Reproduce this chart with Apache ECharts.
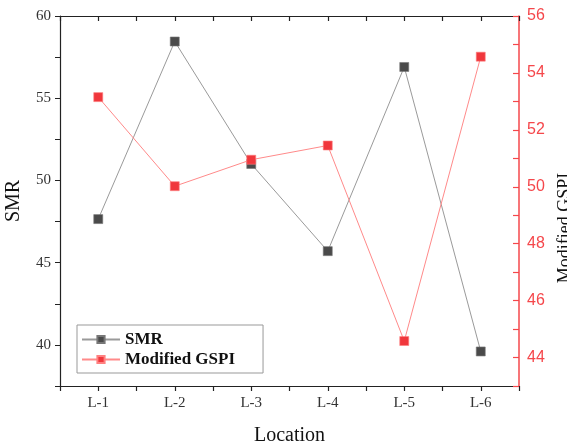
<!DOCTYPE html>
<html>
<head>
<meta charset="utf-8">
<script src="https://cdn.jsdelivr.net/npm/echarts@6/dist/echarts.min.js"></script>
<style>
  html, body { margin: 0; padding: 0; background: #fff; }
  #chart { width: 567px; height: 448px; }
</style>
</head>
<body>
<div id="chart"></div>
<script>
// --- data ---
const locations = ['L-1', 'L-2', 'L-3', 'L-4', 'L-5', 'L-6'];
const smrValues = [47.65, 58.45, 51.0, 45.7, 56.9, 39.6];
const gspiValues = [53.15, 50.02, 50.95, 51.45, 44.58, 54.57];

// colours
const COLORS = {
  axis: '#222',
  text: '#333',
  smrLine: '#9a9a9a',
  smrMark: '#4a4a4a',
  gspiLine: '#ff8a8a',
  gspiMark: '#f0373c',
  red: '#f5474b'
};

const serif = 'Liberation Serif';

// x 位置: 1..6 对应 L-1..L-6
const toPoints = (vals) => vals.map((v, i) => [i + 1, v]);
const locLabel = (v) => (Number.isInteger(v) && locations[v - 1]) ? locations[v - 1] : '';

const chart = echarts.init(document.getElementById('chart'));

const xBase = {
  type: 'value',
  min: 0.5,
  max: 6.5,
  interval: 0.5,
  splitLine: { show: false }
};

const option = {
  animation: false,
  backgroundColor: '#fff',
  grid: { left: 60, right: 48, top: 16, bottom: 62, containLabel: false, outerBoundsMode: 'none' },
  legend: {
    left: 77,
    top: 325,
    orient: 'vertical',
    itemWidth: 38,
    itemHeight: 9,
    itemGap: 3,
    padding: [6, 28, 5, 4],
    borderColor: '#999',
    borderWidth: 1,
    textStyle: { fontFamily: serif, fontWeight: 'bold', fontSize: 17, color: '#111' },
    data: ['SMR', 'Modified GSPI']
  },
  xAxis: [
    {
      ...xBase,
      position: 'bottom',
      name: 'Location',
      nameLocation: 'middle',
      nameGap: 40,
      nameTextStyle: { fontFamily: serif, fontSize: 20, color: '#111' },
      axisLine: { show: true, onZero: false, lineStyle: { color: COLORS.axis, width: 1.2 } },
      axisTick: { show: true, length: 5, lineStyle: { color: COLORS.axis, width: 1.2 } },
      axisLabel: { fontFamily: serif, fontSize: 15, color: COLORS.text, margin: 10, formatter: locLabel }
    },
    {
      ...xBase,
      position: 'top',
      axisLine: { show: true, onZero: false, lineStyle: { color: COLORS.axis, width: 1.2 } },
      axisTick: { show: true, inside: true, length: 5, lineStyle: { color: COLORS.axis, width: 1.2 } },
      axisLabel: { show: false }
    }
  ],
  yAxis: [
    {
      type: 'value',
      position: 'left',
      min: 37.5,
      max: 60,
      interval: 2.5,
      name: 'SMR',
      nameLocation: 'middle',
      nameGap: 36,
      nameTextStyle: { fontFamily: serif, fontSize: 20, color: '#111' },
      axisLine: { show: true, onZero: false, lineStyle: { color: COLORS.axis, width: 1.2 } },
      axisTick: { show: true, length: 5, lineStyle: { color: COLORS.axis, width: 1 } },
      axisLabel: {
        fontFamily: serif, fontSize: 15, color: COLORS.text, margin: 9,
        formatter: (v) => (v % 5 === 0 ? String(v) : '')
      },
      splitLine: { show: false }
    },
    {
      type: 'value',
      position: 'right',
      min: 43,
      max: 56,
      interval: 1,
      name: 'Modified GSPI',
      nameLocation: 'middle',
      nameGap: 37,
      nameRotate: 90,
      // 标题整体偏下
      nameTextStyle: { fontFamily: serif, fontSize: 18, color: '#111', padding: [0, 54, 0, 0] },
      axisLine: { show: true, onZero: false, lineStyle: { color: COLORS.red, width: 1.5 } },
      axisTick: { show: true, inside: true, length: 6, lineStyle: { color: COLORS.red, width: 1.2 } },
      axisLabel: {
        fontFamily: 'Liberation Sans', fontSize: 16, color: COLORS.red, margin: 8,
        formatter: (v) => (v % 2 === 0 ? String(v) : '')
      },
      splitLine: { show: false }
    }
  ],
  series: [
    {
      name: 'SMR',
      type: 'line',
      xAxisIndex: 0,
      yAxisIndex: 0,
      data: toPoints(smrValues),
      symbol: 'rect',
      symbolSize: 9,
      lineStyle: { color: COLORS.smrLine, width: 1 },
      itemStyle: { color: COLORS.smrMark, borderColor: '#777', borderWidth: 0.6 },
      z: 3
    },
    {
      name: 'Modified GSPI',
      type: 'line',
      xAxisIndex: 0,
      yAxisIndex: 1,
      data: toPoints(gspiValues),
      symbol: 'rect',
      symbolSize: 9,
      lineStyle: { color: COLORS.gspiLine, width: 1 },
      itemStyle: { color: COLORS.gspiMark, borderColor: '#ff8080', borderWidth: 0.6 },
      z: 4
    }
  ]
};

chart.setOption(option);
</script>
</body>
</html>
